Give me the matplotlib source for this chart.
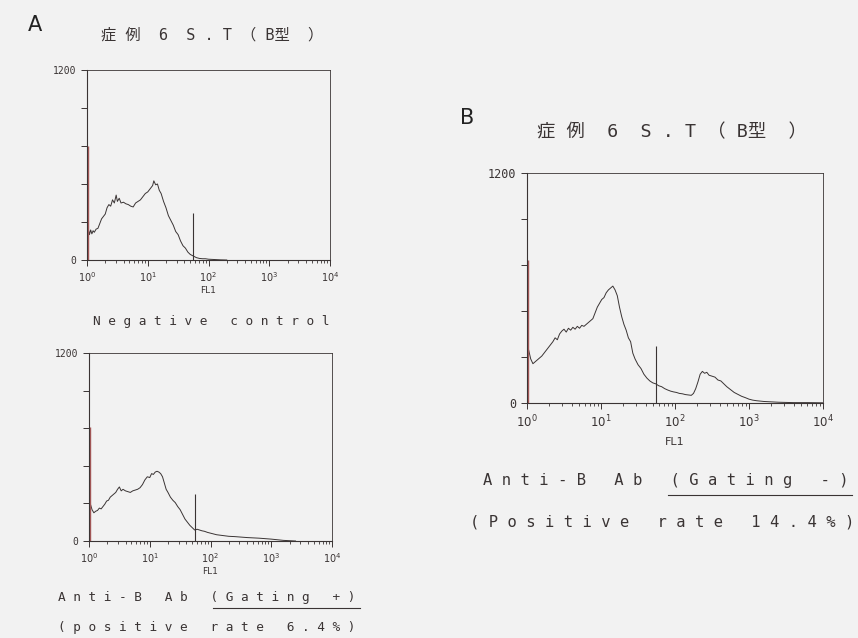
import numpy as np
import matplotlib.pyplot as plt
from matplotlib.lines import Line2D
from matplotlib.ticker import FixedLocator, LogLocator, NullFormatter

# ---- data (log10 FL1 channel, cell count) ----
neg_log = [0.02, 0.04, 0.06, 0.08, 0.10, 0.12, 0.15, 0.18, 0.21, 0.24, 0.27, 0.30,
           0.33, 0.36, 0.39, 0.42, 0.45, 0.48, 0.50, 0.53, 0.56, 0.60, 0.64, 0.68,
           0.72, 0.76, 0.80, 0.84, 0.88, 0.92, 0.96, 1.00, 1.04, 1.08, 1.10, 1.13,
           1.16, 1.19, 1.22, 1.26, 1.30, 1.34, 1.38, 1.42, 1.46, 1.50, 1.54, 1.58,
           1.62, 1.66, 1.70, 1.75, 1.80, 1.85, 1.90, 1.95, 2.00, 2.10, 2.20, 2.30]
neg_cnt = [200, 160, 190, 165, 185, 175, 195, 200, 230, 260, 275, 290,
           330, 350, 340, 380, 360, 410, 370, 390, 360, 365, 355, 350,
           340, 335, 360, 370, 380, 400, 420, 430, 450, 470, 500, 475,
           480, 440, 420, 370, 330, 280, 250, 220, 180, 160, 120, 90,
           75, 50, 35, 25, 15, 10, 8, 8, 5, 3, 1, 0]

gp_log = [0.02, 0.05, 0.08, 0.11, 0.14, 0.17, 0.20, 0.23, 0.26, 0.29, 0.32, 0.35,
          0.38, 0.41, 0.44, 0.47, 0.50, 0.53, 0.56, 0.60, 0.64, 0.68, 0.72, 0.76,
          0.80, 0.84, 0.88, 0.92, 0.96, 1.00, 1.03, 1.06, 1.09, 1.12, 1.15, 1.18,
          1.21, 1.24, 1.27, 1.30, 1.34, 1.38, 1.42, 1.46, 1.50, 1.54, 1.58, 1.62,
          1.66, 1.70, 1.74, 1.78, 1.82, 1.86, 1.90, 1.95, 2.00, 2.05, 2.10, 2.20,
          2.30, 2.40, 2.50, 2.60, 2.70, 2.80, 2.90, 3.00, 3.10, 3.20, 3.30, 3.40]
gp_cnt = [240, 200, 180, 190, 195, 210, 205, 220, 235, 255, 260, 280,
          290, 300, 310, 330, 345, 320, 330, 320, 315, 310, 320, 325,
          330, 340, 360, 390, 410, 405, 430, 425, 440, 445, 440, 430,
          410, 370, 330, 310, 280, 260, 245, 220, 200, 170, 140, 120,
          100, 85, 70, 75, 70, 65, 62, 55, 50, 45, 40, 35,
          30, 28, 25, 22, 20, 18, 15, 12, 8, 4, 2, 0]

gm_log = [0.02, 0.05, 0.08, 0.11, 0.14, 0.17, 0.20, 0.23, 0.26, 0.29, 0.32, 0.35,
          0.38, 0.41, 0.44, 0.47, 0.50, 0.53, 0.56, 0.59, 0.62, 0.65, 0.68, 0.71,
          0.74, 0.77, 0.80, 0.83, 0.86, 0.89, 0.92, 0.95, 0.98, 1.01, 1.04, 1.07,
          1.10, 1.13, 1.16, 1.19, 1.22, 1.25, 1.28, 1.31, 1.34, 1.37, 1.40, 1.43,
          1.46, 1.50, 1.54, 1.58, 1.62, 1.66, 1.70, 1.74, 1.78, 1.82, 1.86, 1.90,
          1.94, 1.98, 2.02, 2.06, 2.10, 2.14, 2.18, 2.22, 2.25, 2.28, 2.31, 2.34,
          2.37, 2.40, 2.43, 2.46, 2.50, 2.54, 2.58, 2.62, 2.66, 2.70, 2.75, 2.80,
          2.85, 2.90, 2.95, 3.00, 3.05, 3.10, 3.20, 3.30, 3.40, 3.50, 3.60, 3.80, 4.00]
gm_cnt = [280, 230, 205, 215, 225, 235, 245, 260, 275, 290, 305, 320,
          340, 330, 360, 375, 385, 370, 390, 380, 395, 385, 400, 390,
          405, 400, 410, 420, 430, 440, 470, 500, 520, 540, 550, 575,
          590, 600, 610, 590, 560, 500, 450, 410, 380, 340, 320, 260,
          230, 200, 180, 150, 130, 115, 105, 100, 90, 85, 75, 68,
          62, 58, 55, 50, 48, 44, 42, 40, 50, 75, 110, 150,
          165, 155, 160, 145, 140, 135, 120, 115, 100, 85, 70, 55,
          45, 35, 28, 20, 15, 12, 8, 6, 4, 3, 2, 2, 1]

spike_cnt = {"neg": 720, "gp": 726, "gm": 746}   # first channel (FL1 = 1)
gate_fl1 = 55
gate_cnt = 300

x_ticks = [1, 10, 100, 1000, 10000]
x_labels = [r"$10^{0}$", r"$10^{1}$", r"$10^{2}$", r"$10^{3}$", r"$10^{4}$"]
y_ticks = [0, 240, 480, 720, 960, 1200]
y_labels = ["0", "", "", "", "", "1200"]

title = "症 例  6  S . T （ B型  ）"
title_font = ["DejaVu Sans Mono", "Noto Sans CJK JP"]

bg = "#f2f2f2"
ink = "#3a3434"
W, H = 858, 638

plt.rcParams["font.family"] = ["DejaVu Sans"]
fig = plt.figure(figsize=(W / 100, H / 100), dpi=100, facecolor=bg)


def box(l, t, r, b):
    return [l / W, 1 - b / H, (r - l) / W, (b - t) / H]


def spaced(s):
    return " ".join(s)


def histo(rect, logs, cnts, spike, fs, lpad):
    ax = fig.add_axes(rect, facecolor=bg)
    x = 10 ** np.array(logs)
    ax.plot(x, cnts, color=ink, lw=0.7)
    ax.vlines(1.02, 0, spike, color="#a85858", lw=1.0)
    ax.vlines(gate_fl1, 0, gate_cnt, color=ink, lw=0.8)
    ax.set_xscale("log")
    ax.set_xlim(1, 10000)
    ax.set_ylim(0, 1200)
    ax.xaxis.set_major_locator(FixedLocator(x_ticks))
    ax.xaxis.set_minor_locator(LogLocator(base=10, subs=np.arange(2, 10)))
    ax.xaxis.set_minor_formatter(NullFormatter())
    ax.set_xticklabels(x_labels)
    ax.set_yticks(y_ticks)
    ax.set_yticklabels(y_labels, family="DejaVu Sans Mono")
    ax.tick_params(axis="both", which="major", direction="out", length=4,
                   width=0.7, color=ink, labelsize=fs, labelcolor=ink)
    ax.tick_params(axis="x", which="minor", direction="out", length=2.5,
                   width=0.6, color=ink)
    for side, sp in ax.spines.items():
        sp.set_color(ink)
        sp.set_linewidth(0.8 if side in ("left", "bottom") else 0.6)
    ax.set_xlabel("FL1", fontsize=fs - 0.5, color=ink, labelpad=lpad)
    return ax


# panel A, negative control
histo(box(87, 70, 330, 260), neg_log, neg_cnt, spike_cnt["neg"], 7, 1)
fig.text(35 / W, 1 - 25 / H, "A", fontsize=15, color="#222", ha="center", va="center")
fig.text(212 / W, 1 - 35 / H, title, fontsize=11, color=ink, ha="center", va="center",
         family=title_font)
fig.text(211 / W, 1 - 321 / H, spaced("Negative control"), fontsize=9.2, color=ink,
         ha="center", va="center", family="DejaVu Sans Mono")

# panel A, anti-B gating +
histo(box(89, 353, 332, 541), gp_log, gp_cnt, spike_cnt["gp"], 7, 1)
fig.text(58 / W, 1 - 597 / H, spaced("Anti-B Ab (Gating +)"), fontsize=9.2, color=ink,
         ha="left", va="center", family="DejaVu Sans Mono")
fig.add_artist(Line2D([213 / W, 360 / W], [1 - 608 / H, 1 - 608 / H], color=ink, lw=0.8))
fig.text(58 / W, 1 - 627 / H, spaced("(positive rate 6.4%)"), fontsize=9.2, color=ink,
         ha="left", va="center", family="DejaVu Sans Mono")

# panel B, anti-B gating -
histo(box(527, 173, 823, 403), gm_log, gm_cnt, spike_cnt["gm"], 8.5, 5)
fig.text(467 / W, 1 - 118 / H, "B", fontsize=15, color="#222", ha="center", va="center")
fig.text(672 / W, 1 - 132 / H, title, fontsize=13.2, color=ink, ha="center", va="center",
         family=title_font)
fig.text(483 / W, 1 - 480 / H, spaced("Anti-B Ab (Gating -)"), fontsize=11.2, color=ink,
         ha="left", va="center", family="DejaVu Sans Mono")
fig.add_artist(Line2D([668 / W, 852 / W], [1 - 495 / H, 1 - 495 / H], color=ink, lw=0.8))
fig.text(470 / W, 1 - 522 / H, spaced("(Positive rate 14.4%)"), fontsize=11.2, color=ink,
         ha="left", va="center", family="DejaVu Sans Mono")

fig.savefig("out.png", dpi=100, facecolor=bg)
